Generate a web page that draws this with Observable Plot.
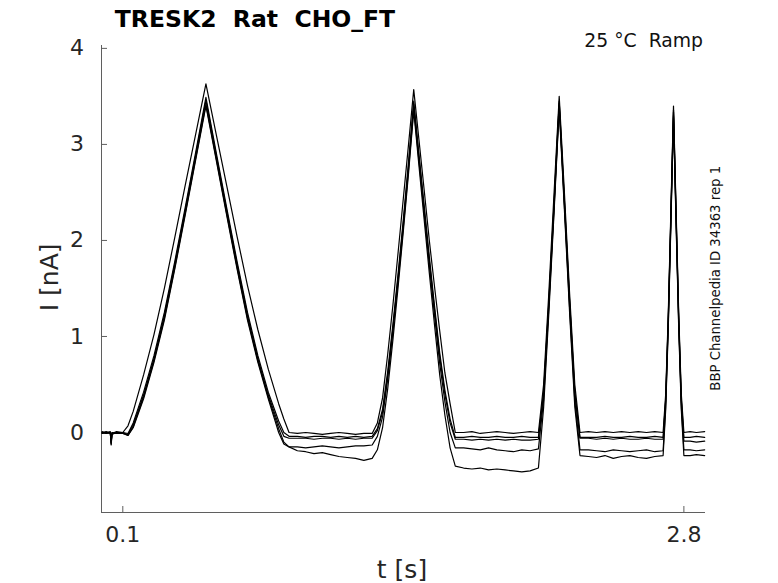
<!DOCTYPE html>
<html>
<head>
<meta charset="utf-8">
<script src="https://cdn.jsdelivr.net/npm/d3@7"></script>
<script src="https://cdn.jsdelivr.net/npm/@observablehq/plot@0.6"></script>
<style>
  html, body { margin: 0; padding: 0; background: white; }
  #chart svg { display: block; }
</style>
</head>
<body>
<div id="chart"></div>
<script>
// time points [s]
const T = [
  0, 0.02, 0.04, 0.044, 0.048, 0.07, 0.1,
  0.125, 0.15, 0.2, 0.25, 0.3, 0.35, 0.4, 0.45, 0.5,
  0.55, 0.6, 0.65, 0.7, 0.75, 0.8, 0.85, 0.875, 0.9,
  0.94, 0.98, 1.02, 1.06, 1.1, 1.14, 1.18, 1.22, 1.26, 1.3,
  1.325, 1.35, 1.375, 1.4, 1.425, 1.45, 1.475, 1.5,
  1.525, 1.55, 1.575, 1.6, 1.625, 1.65, 1.675, 1.7,
  1.74, 1.78, 1.82, 1.86, 1.9, 1.94, 1.98, 2.02, 2.06, 2.1,
  2.125, 2.15, 2.175, 2.2, 2.225, 2.25, 2.275, 2.3,
  2.34, 2.38, 2.42, 2.46, 2.5, 2.54, 2.58, 2.62, 2.66, 2.7,
  2.7125, 2.725, 2.7375, 2.75, 2.7625, 2.775, 2.7875, 2.8,
  2.83, 2.86, 2.9
];

// current traces [nA], one per repetition
const traceA = [
  0.01, -0.01, 0.0, -0.12, -0.01, 0.01, 0.0,
  0.07, 0.22, 0.6, 1.02, 1.5, 2.03, 2.57, 3.1, 3.63,
  3.1, 2.57, 2.04, 1.53, 1.07, 0.66, 0.3, 0.14, 0.0,
  -0.01, 0.0, -0.01, -0.02, -0.01, 0.0, -0.01, -0.02, -0.01, -0.01,
  0.1, 0.36, 0.82, 1.33, 1.88, 2.44, 3.0, 3.57,
  3.05, 2.53, 2.0, 1.52, 1.06, 0.62, 0.3, 0.0,
  0.0, 0.01, -0.01, 0.0, 0.01, 0.0, -0.01, 0.0, 0.01, 0.0,
  0.5, 1.45, 2.48, 3.5, 2.5, 1.45, 0.5, 0.0,
  0.01, 0.0, 0.01, 0.0, 0.01, 0.0, 0.01, 0.0, 0.01, 0.0,
  0.4, 1.25, 2.32, 3.4, 2.32, 1.25, 0.4, 0.0,
  0.01, 0.0, 0.01
];
const traceB = [
  0.0, 0.01, -0.01, -0.1, 0.0, -0.01, 0.0,
  -0.01, 0.1, 0.42, 0.8, 1.25, 1.78, 2.34, 2.91, 3.49,
  2.91, 2.34, 1.78, 1.25, 0.8, 0.42, 0.12, 0.0, -0.04,
  -0.04, -0.05, -0.04, -0.04, -0.05, -0.04, -0.05, -0.04, -0.05, -0.04,
  0.04, 0.24, 0.64, 1.13, 1.66, 2.22, 2.82, 3.45,
  2.9, 2.37, 1.83, 1.32, 0.83, 0.44, 0.14, -0.05,
  -0.05, -0.04, -0.05, -0.05, -0.04, -0.05, -0.05, -0.04, -0.05, -0.05,
  0.42, 1.36, 2.38, 3.45, 2.42, 1.38, 0.42, -0.05,
  -0.05, -0.05, -0.04, -0.05, -0.05, -0.04, -0.05, -0.05, -0.04, -0.05,
  0.35, 1.2, 2.27, 3.36, 2.27, 1.2, 0.35, -0.05,
  -0.05, -0.04, -0.05
];
const traceC = [
  -0.01, 0.0, 0.01, -0.09, -0.01, 0.0, -0.01,
  -0.02, 0.08, 0.39, 0.77, 1.22, 1.75, 2.31, 2.88, 3.46,
  2.88, 2.31, 1.75, 1.22, 0.77, 0.39, 0.08, -0.04, -0.06,
  -0.06, -0.06, -0.07, -0.06, -0.06, -0.07, -0.06, -0.07, -0.06, -0.06,
  0.02, 0.21, 0.6, 1.09, 1.62, 2.18, 2.78, 3.42,
  2.87, 2.33, 1.79, 1.28, 0.79, 0.4, 0.1, -0.07,
  -0.07, -0.08, -0.07, -0.08, -0.07, -0.08, -0.07, -0.08, -0.08, -0.07,
  0.4, 1.34, 2.36, 3.43, 2.4, 1.36, 0.4, -0.06,
  -0.06, -0.07, -0.06, -0.07, -0.06, -0.07, -0.07, -0.06, -0.07, -0.07,
  0.33, 1.18, 2.25, 3.34, 2.25, 1.18, 0.33, -0.09,
  -0.09, -0.1, -0.09
];
const traceD = [
  0.0, -0.01, 0.0, -0.13, -0.02, 0.0, 0.0,
  -0.03, 0.06, 0.37, 0.75, 1.19, 1.72, 2.28, 2.85, 3.42,
  2.85, 2.28, 1.72, 1.19, 0.75, 0.37, 0.04, -0.1, -0.15,
  -0.15, -0.16, -0.15, -0.14, -0.15, -0.16, -0.15, -0.14, -0.14, -0.13,
  -0.04, 0.16, 0.56, 1.05, 1.58, 2.14, 2.74, 3.38,
  2.83, 2.29, 1.74, 1.22, 0.72, 0.32, 0.0, -0.16,
  -0.16, -0.17, -0.18, -0.16, -0.18, -0.19, -0.2, -0.18, -0.19, -0.17,
  0.34, 1.3, 2.32, 3.4, 2.36, 1.3, 0.33, -0.18,
  -0.18, -0.19, -0.2, -0.18, -0.19, -0.2, -0.19, -0.18, -0.2, -0.19,
  0.28, 1.14, 2.2, 3.3, 2.2, 1.14, 0.28, -0.18,
  -0.18, -0.19, -0.18
];
const traceE = [
  -0.01, 0.0, -0.01, -0.11, 0.0, -0.01, -0.01,
  -0.03, 0.05, 0.35, 0.73, 1.17, 1.7, 2.26, 2.83, 3.4,
  2.83, 2.26, 1.7, 1.17, 0.73, 0.35, 0.0, -0.12, -0.15,
  -0.19, -0.2, -0.22, -0.21, -0.23, -0.25, -0.26, -0.27, -0.29, -0.27,
  -0.18, 0.05, 0.46, 0.97, 1.52, 2.1, 2.7, 3.35,
  2.78, 2.22, 1.66, 1.12, 0.6, 0.18, -0.16, -0.35,
  -0.37, -0.38, -0.37, -0.39, -0.38, -0.39, -0.4, -0.41, -0.4, -0.37,
  0.26, 1.24, 2.28, 3.38, 2.32, 1.25, 0.27, -0.24,
  -0.25, -0.26, -0.24, -0.27, -0.25, -0.24, -0.26, -0.27, -0.25, -0.24,
  0.24, 1.1, 2.17, 3.28, 2.17, 1.1, 0.24, -0.24,
  -0.24, -0.23, -0.24
];

const traces = { A: traceA, B: traceB, C: traceC, D: traceD, E: traceE };
const xTicks = [0.1, 2.8];
const yTicks = [0, 1, 2, 3, 4];
const xDomain = [-0.0025, 2.904];
const yDomain = [-0.833, 4.03];

const rows = [];
for (const [name, vals] of Object.entries(traces)) {
  T.forEach((t, i) => rows.push({ t, I: vals[i], trace: name }));
}

const W = 778, H = 583;
const mL = 101, mR = 73, mT = 45, mB = 71;
const frameW = W - mL - mR, frameH = H - mT - mB;
const axisColor = "#5f5f5f";
const tickLen = 6;

const chart = Plot.plot({
  width: W, height: H,
  marginLeft: mL, marginRight: mR, marginTop: mT, marginBottom: mB,
  x: { domain: xDomain },
  y: { domain: yDomain },
  style: { fontFamily: "DejaVu Sans", background: "white", overflow: "visible" },
  marks: [
    Plot.ruleX([xDomain[0]], { stroke: axisColor, strokeWidth: 1 }),
    Plot.ruleY([yDomain[0]], { stroke: axisColor, strokeWidth: 1 }),
    Plot.tickY(yTicks, { y: d => d, insetRight: frameW - tickLen, stroke: axisColor }),
    Plot.tickX(xTicks, { x: d => d, insetTop: frameH - tickLen, stroke: axisColor }),
    Plot.axisY(yTicks, { tickSize: 0, tickPadding: 17.5, fontSize: 22, fill: "#262626", label: null, tickFormat: d => String(d) }),
    Plot.axisX(xTicks, { tickSize: 0, tickPadding: 14, fontSize: 22, fill: "#262626", label: null, tickFormat: d => String(d) }),
    Plot.line(rows, { x: "t", y: "I", z: "trace", stroke: "black", strokeWidth: 1.2 })
  ]
});
document.getElementById("chart").appendChild(chart);

const svg = d3.select(chart);
const addText = (txt, x, y, opts) => {
  const el = svg.append("text")
    .attr("x", x).attr("y", y)
    .attr("text-anchor", opts.anchor || "middle")
    .style("white-space", "pre")
    .attr("font-family", "DejaVu Sans")
    .attr("font-size", opts.size)
    .attr("font-weight", opts.weight || "normal")
    .attr("fill", opts.fill || "black")
    .text(txt);
  if (opts.rotate) el.attr("transform", `rotate(${opts.rotate} ${x} ${y})`);
  return el;
};
addText("TRESK2  Rat  CHO_FT", 255, 26.7, { size: 23.5, weight: "bold" });
addText("25 °C  Ramp", 703, 47, { size: 18.8, anchor: "end", fill: "#111" });
addText("BBP Channelpedia ID 34363 rep 1", 719.6, 278.3, { size: 13.25, rotate: -90, fill: "#111" });
addText("I [nA]", 58.2, 277.3, { size: 25, rotate: -90, fill: "#262626" });
addText("t [s]", 402, 577.7, { size: 25, fill: "#262626" });
</script>
</body>
</html>
